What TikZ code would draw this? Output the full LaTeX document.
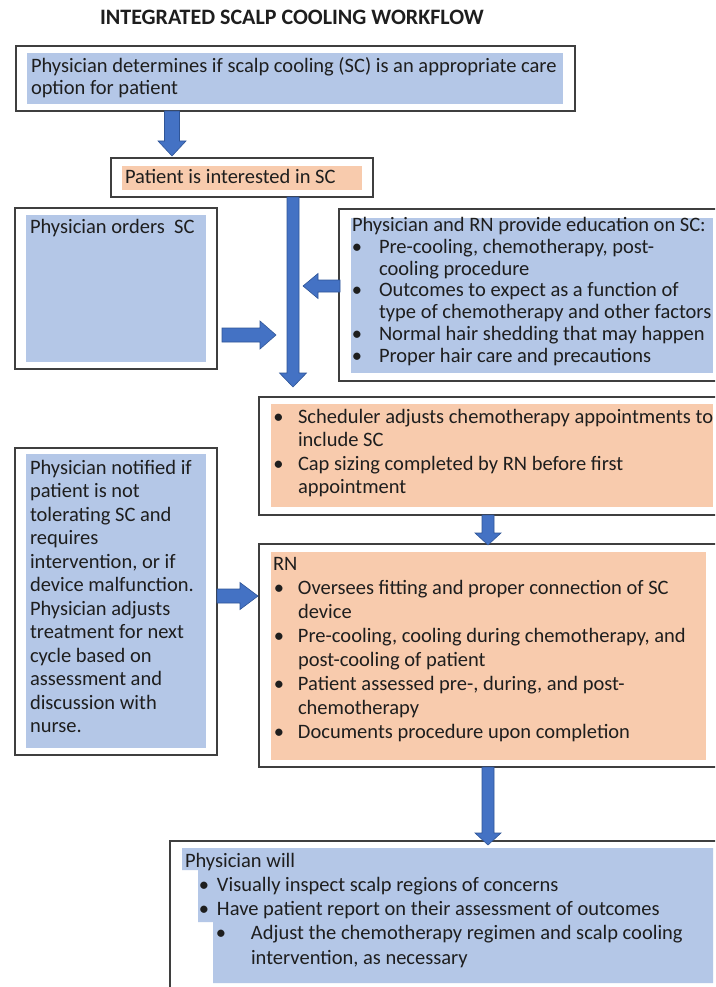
\documentclass[tikz,border=0pt]{standalone}
\usepackage{fontspec}
\setmainfont{Carlito}
\usetikzlibrary{calc}
\definecolor{sblue}{HTML}{B4C7E7}
\definecolor{sorange}{HTML}{F8CBAD}
\definecolor{afill}{HTML}{4472C4}
\definecolor{aedge}{HTML}{2F5597}
\definecolor{frameC}{HTML}{3F3F3F}
\definecolor{txtC}{HTML}{1E1E1E}
\tikzset{
  frame/.style={draw=frameC, line width=1.3pt, fill=white, inner sep=0pt, outer sep=0pt, anchor=north west},
  shadeblue/.style={fill=sblue, inner sep=0pt, outer sep=0pt, anchor=north west},
  shadeorange/.style={fill=sorange, inner sep=0pt, outer sep=0pt, anchor=north west},
  txtnode/.style={inner sep=0pt, outer sep=0pt, anchor=base west, align=left, text=txtC},
  arr/.style={fill=afill, draw=aedge, line width=0.6pt, line join=miter},
}
\newcommand\RectNode[6]{%
  \pgfmathsetmacro\RectW{#5-#3}\pgfmathsetmacro\RectH{#6-#4}%
  \node[#1, minimum width=\RectW pt, minimum height=\RectH pt] (#2) at (#3,#4) {};}
\newcommand\BlockArrow[5]{%
  \coordinate (ah) at ($(#2)!#5pt!(#1)$);
  \filldraw[arr] ($(#1)!#3pt!90:(#2)$) -- ($(ah)!#3pt!90:(#2)$) -- ($(ah)!#4pt!90:(#2)$) -- (#2)
     -- ($(ah)!#4pt!-90:(#2)$) -- ($(ah)!#3pt!-90:(#2)$) -- ($(#1)!#3pt!-90:(#2)$) -- cycle;}
\newcommand\Bul[2]{\hspace*{#1pt}\makebox[0pt]{\textbullet}\hspace*{#2pt}}
\newcommand\Ind[1]{\hspace*{#1pt}}
\newcommand\FS[1]{\fontsize{20.5}{#1}\selectfont\lineskiplimit=-30pt\relax}
\begin{document}
\begin{tikzpicture}[x=1pt,y=-1pt]
\useasboundingbox (0,0) rectangle (715,987);
\clip (0,0) rectangle (715,987);
\fill[white] (0,0) rectangle (715,987);

% title
\node[txtnode, font=\fontsize{22}{24}\selectfont\bfseries] (title) at (100,25) {INTEGRATED SCALP COOLING WORKFLOW};

% box 1 (text nodes are anchored at the baseline of their last line)
\RectNode{frame}{b1}{16}{46}{575}{111}
\RectNode{shadeblue}{s1}{27}{53}{563}{104}
\node[txtnode, font=\FS{22}] (t1) at (31,95) {Physician determines if scalp cooling (SC) is an appropriate care\\option for patient};

% box 2
\RectNode{frame}{b2}{111}{158}{373}{197}
\RectNode{shadeorange}{s2}{122}{166}{362}{190}
\node[txtnode, font=\FS{22}] (t2) at (125,184) {Patient is interested in SC};

% box 3
\RectNode{frame}{b3}{15}{208}{217}{369}
\RectNode{shadeblue}{s3}{26}{215}{206}{362}
\node[txtnode, font=\FS{22}] (t3) at (30,233) {Physician orders\ \ SC};

% box 4 education
\RectNode{frame}{b4}{339}{209}{725}{381}
\RectNode{shadeblue}{s4}{351}{218}{713}{373}
\node[txtnode, font=\FS{21.67}] (t4) at (352,362) {Physician and RN provide education on SC:\\
\Bul{5}{22}Pre-cooling, chemotherapy, post-\\
\Ind{27}cooling procedure\\
\Bul{5}{22}Outcomes to expect as a function of\\
\Ind{27}type of chemotherapy and other factors\\
\Bul{5}{22}Normal hair shedding that may happen\\
\Bul{5}{22}Proper hair care and precautions};

% box 5 scheduler
\RectNode{frame}{b5}{259}{397}{725}{515}
\RectNode{shadeorange}{s5}{271}{404}{713}{507}
\node[txtnode, font=\FS{23.5}] (t5) at (273,493.5) {\Bul{5.5}{19.5}Scheduler adjusts chemotherapy appointments to\\
\Ind{25}include SC\\
\Bul{5.5}{19.5}Cap sizing completed by RN before first\\
\Ind{25}appointment};

% box 6 notified
\RectNode{frame}{b6}{15}{448}{217}{755}
\RectNode{shadeblue}{s6}{26}{454}{206}{748}
\node[txtnode, font=\FS{23.5}] (t6) at (30,732.5) {Physician notified if\\
patient is not\\
tolerating SC and\\
requires\\
intervention, or if\\
device malfunction.\\
Physician adjusts\\
treatment for next\\
cycle based on\\
assessment and\\
discussion with\\
nurse.};

% box 7 RN
\RectNode{frame}{b7}{259}{544}{725}{767}
\RectNode{shadeorange}{s7}{271}{552}{706}{760}
\node[txtnode, font=\FS{24}] (t7) at (273,738) {RN\\
\Bul{6}{19}Oversees fitting and proper connection of SC\\
\Ind{25}device\\
\Bul{6}{19}Pre-cooling, cooling during chemotherapy, and\\
\Ind{25}post-cooling of patient\\
\Bul{6}{19}Patient assessed pre-, during, and post-\\
\Ind{25}chemotherapy\\
\Bul{6}{19}Documents procedure upon completion};

% box 8 bottom
\RectNode{frame}{b8}{170}{841}{725}{995}
\fill[sblue] (182,848) -- (713,848) -- (713,983) -- (213,983) -- (213,922) -- (198,922) -- (198,870) -- (182,870) -- cycle;
\node[txtnode, font=\FS{24.3}] (t8) at (185,964.2) {Physician will\\
\Bul{19}{13}Visually inspect scalp regions of concerns\\
\Bul{19}{13}Have patient report on their assessment of outcomes\\
\Bul{36}{30}Adjust the chemotherapy regimen and scalp cooling\\
\Ind{66}intervention, as necessary};

% arrows
\coordinate (a1s) at (172,111); \coordinate (a1e) at (172,156);
\BlockArrow{a1s}{a1e}{7.5}{14}{15}
\coordinate (a2s) at (293,197); \coordinate (a2e) at (293,387);
\BlockArrow{a2s}{a2e}{6}{13.5}{14}
\coordinate (a3s) at (222,335); \coordinate (a3e) at (276,335);
\BlockArrow{a3s}{a3e}{7}{14}{16}
\coordinate (a4s) at (340,286); \coordinate (a4e) at (303,286);
\BlockArrow{a4s}{a4e}{6}{12.5}{15}
\coordinate (a5s) at (488,515); \coordinate (a5e) at (488,545);
\BlockArrow{a5s}{a5e}{6}{13}{12}
\coordinate (a6s) at (217,596); \coordinate (a6e) at (258,596);
\BlockArrow{a6s}{a6e}{7}{13.5}{18}
\coordinate (a7s) at (488,767); \coordinate (a7e) at (488,845);
\BlockArrow{a7s}{a7e}{6}{13}{12}
\end{tikzpicture}
\end{document}
